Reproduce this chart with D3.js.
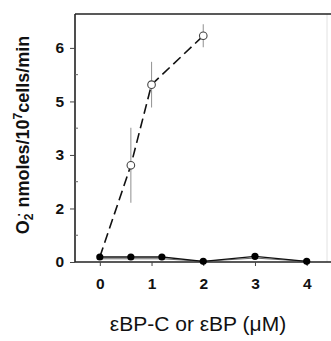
<!DOCTYPE html>
<html>
<head>
<meta charset="utf-8">
<script src="https://cdn.jsdelivr.net/npm/d3@7"></script>
<style>
  html, body { margin: 0; padding: 0; background: #fff; }
  svg { display: block; font-family: Arial, "Liberation Sans", Helvetica, sans-serif; }
</style>
</head>
<body>
<svg id="chart" width="331" height="341"></svg>
<script>
    // values (y in axis units, ticks evenly spaced)
    const xTicks = [0, 1, 2, 3, 4];
    const yTickPos = [0, 1.5, 3, 4.5, 6];
    const yTickLabels = ['0', '2', '3', '5', '6'];

    // open circles, dashed (εBP-C)
    const openX   = [0.6, 1.0, 2.0];
    const openY   = [2.71, 4.97, 6.34];
    const openErr = [1.05, 0.64, 0.32];
    const dashStart = { x: 0, y: 0.14 };

    // filled circles, solid (εBP)
    const filledX = [0, 0.6, 1.2, 2, 3, 4];
    const filledY = [0.14, 0.14, 0.14, 0.02, 0.16, 0.02];
    // second faint trace lying just under the filled one
    const traceY  = [0.09, 0.09, 0.09, 0.02, 0.11, 0.02];

    const svg = d3.select('#chart');
    const x = d3.scaleLinear().domain([-0.48, 4.47]).range([75, 331]);
    const y = d3.scaleLinear().domain([0, 6.95]).range([262, 14]);

    // frame: faint right side, top line
    svg.append('line').attr('x1', 327).attr('x2', 327).attr('y1', 14).attr('y2', 262)
      .attr('stroke', '#e2e2e2').attr('stroke-width', 1);
    svg.append('line').attr('x1', 75).attr('x2', 331).attr('y1', y(6.95)).attr('y2', y(6.95))
      .attr('stroke', '#222').attr('stroke-width', 1.6);

    // axes
    const yAxis = svg.append('g').attr('transform', 'translate(75,0)')
      .call(d3.axisLeft(y).tickValues(yTickPos).tickSize(5).tickPadding(6)
        .tickFormat((d, i) => yTickLabels[i]));
    const xAxis = svg.append('g').attr('transform', 'translate(0,262)')
      .call(d3.axisBottom(x).tickValues(xTicks).tickSize(4).tickPadding(12).tickFormat(d3.format('d')));

    [yAxis, xAxis].forEach(a => {
      a.select('.domain').attr('stroke', '#222').attr('stroke-width', 1.6);
      a.selectAll('.tick line').attr('stroke', '#444').attr('stroke-width', 1);
      a.selectAll('.tick text').attr('fill', '#111')
        .style('font-size', '15.5px').style('font-weight', 'bold');
    });
    xAxis.select('.domain').attr('d', 'M75,0H331');
    yAxis.select('.domain').attr('d', 'M0,262V14');

    // minor inward ticks on y
    svg.append('g').selectAll('line')
      .data(d3.pairs(yTickPos).map(p => (p[0] + p[1]) / 2)).join('line')
      .attr('x1', 75).attr('x2', 78)
      .attr('y1', d => y(d)).attr('y2', d => y(d))
      .attr('stroke', '#666').attr('stroke-width', 1);

    // error bars (grey, no caps)
    svg.append('g').selectAll('line')
      .data(openX.map((v, i) => ({ x: v, y: openY[i], e: openErr[i] }))).join('line')
      .attr('x1', d => x(d.x)).attr('x2', d => x(d.x))
      .attr('y1', d => y(d.y - d.e)).attr('y2', d => y(d.y + d.e))
      .attr('stroke', '#9a9a9a').attr('stroke-width', 1.1);

    const line = d3.line().x(d => x(d.x)).y(d => y(d.y));

    const filled = filledX.map((v, i) => ({ x: v, y: filledY[i] }));
    const trace = filledX.map((v, i) => ({ x: v, y: traceY[i] }));
    const open = [dashStart].concat(openX.map((v, i) => ({ x: v, y: openY[i] })));

    svg.append('path').datum(trace).attr('d', line)
      .attr('fill', 'none').attr('stroke', '#555').attr('stroke-width', 0.9);
    svg.append('path').datum(filled).attr('d', line)
      .attr('fill', 'none').attr('stroke', '#111').attr('stroke-width', 1.3);

    svg.append('path').datum(open).attr('d', line)
      .attr('fill', 'none').attr('stroke', '#111').attr('stroke-width', 1.6)
      .attr('stroke-dasharray', '10,5');

    svg.append('g').selectAll('circle').data(open.slice(1)).join('circle')
      .attr('cx', d => x(d.x)).attr('cy', d => y(d.y)).attr('r', 3.8)
      .attr('fill', '#fff').attr('stroke', '#444').attr('stroke-width', 1.1);

    svg.append('g').selectAll('circle').data(filled).join('circle')
      .attr('cx', d => x(d.x)).attr('cy', d => y(d.y)).attr('r', 3.6)
      .attr('fill', '#000');

    // axis titles
    svg.append('text')
      .attr('transform', 'translate(29,135) rotate(-90)')
      .attr('text-anchor', 'middle')
      .style('font-size', '18px').style('font-weight', 'bold').attr('fill', '#111')
      .call(t => {
        t.append('tspan').text('O');
        t.append('tspan').text('2').attr('dy', 4).style('font-size', '12px');
        t.append('tspan').text('·').attr('dy', -10).attr('dx', -3).style('font-size', '12px');
        t.append('tspan').text(' nmoles/10').attr('dy', 6);
        t.append('tspan').text('7').attr('dy', -7).style('font-size', '12px');
        t.append('tspan').text('cells/min').attr('dy', 7);
      });

    svg.append('text')
      .attr('x', 198).attr('y', 331)
      .attr('text-anchor', 'middle')
      .style('font-size', '21px').attr('fill', '#111')
      .text('εBP-C or εBP (μM)');
</script>
</body>
</html>
